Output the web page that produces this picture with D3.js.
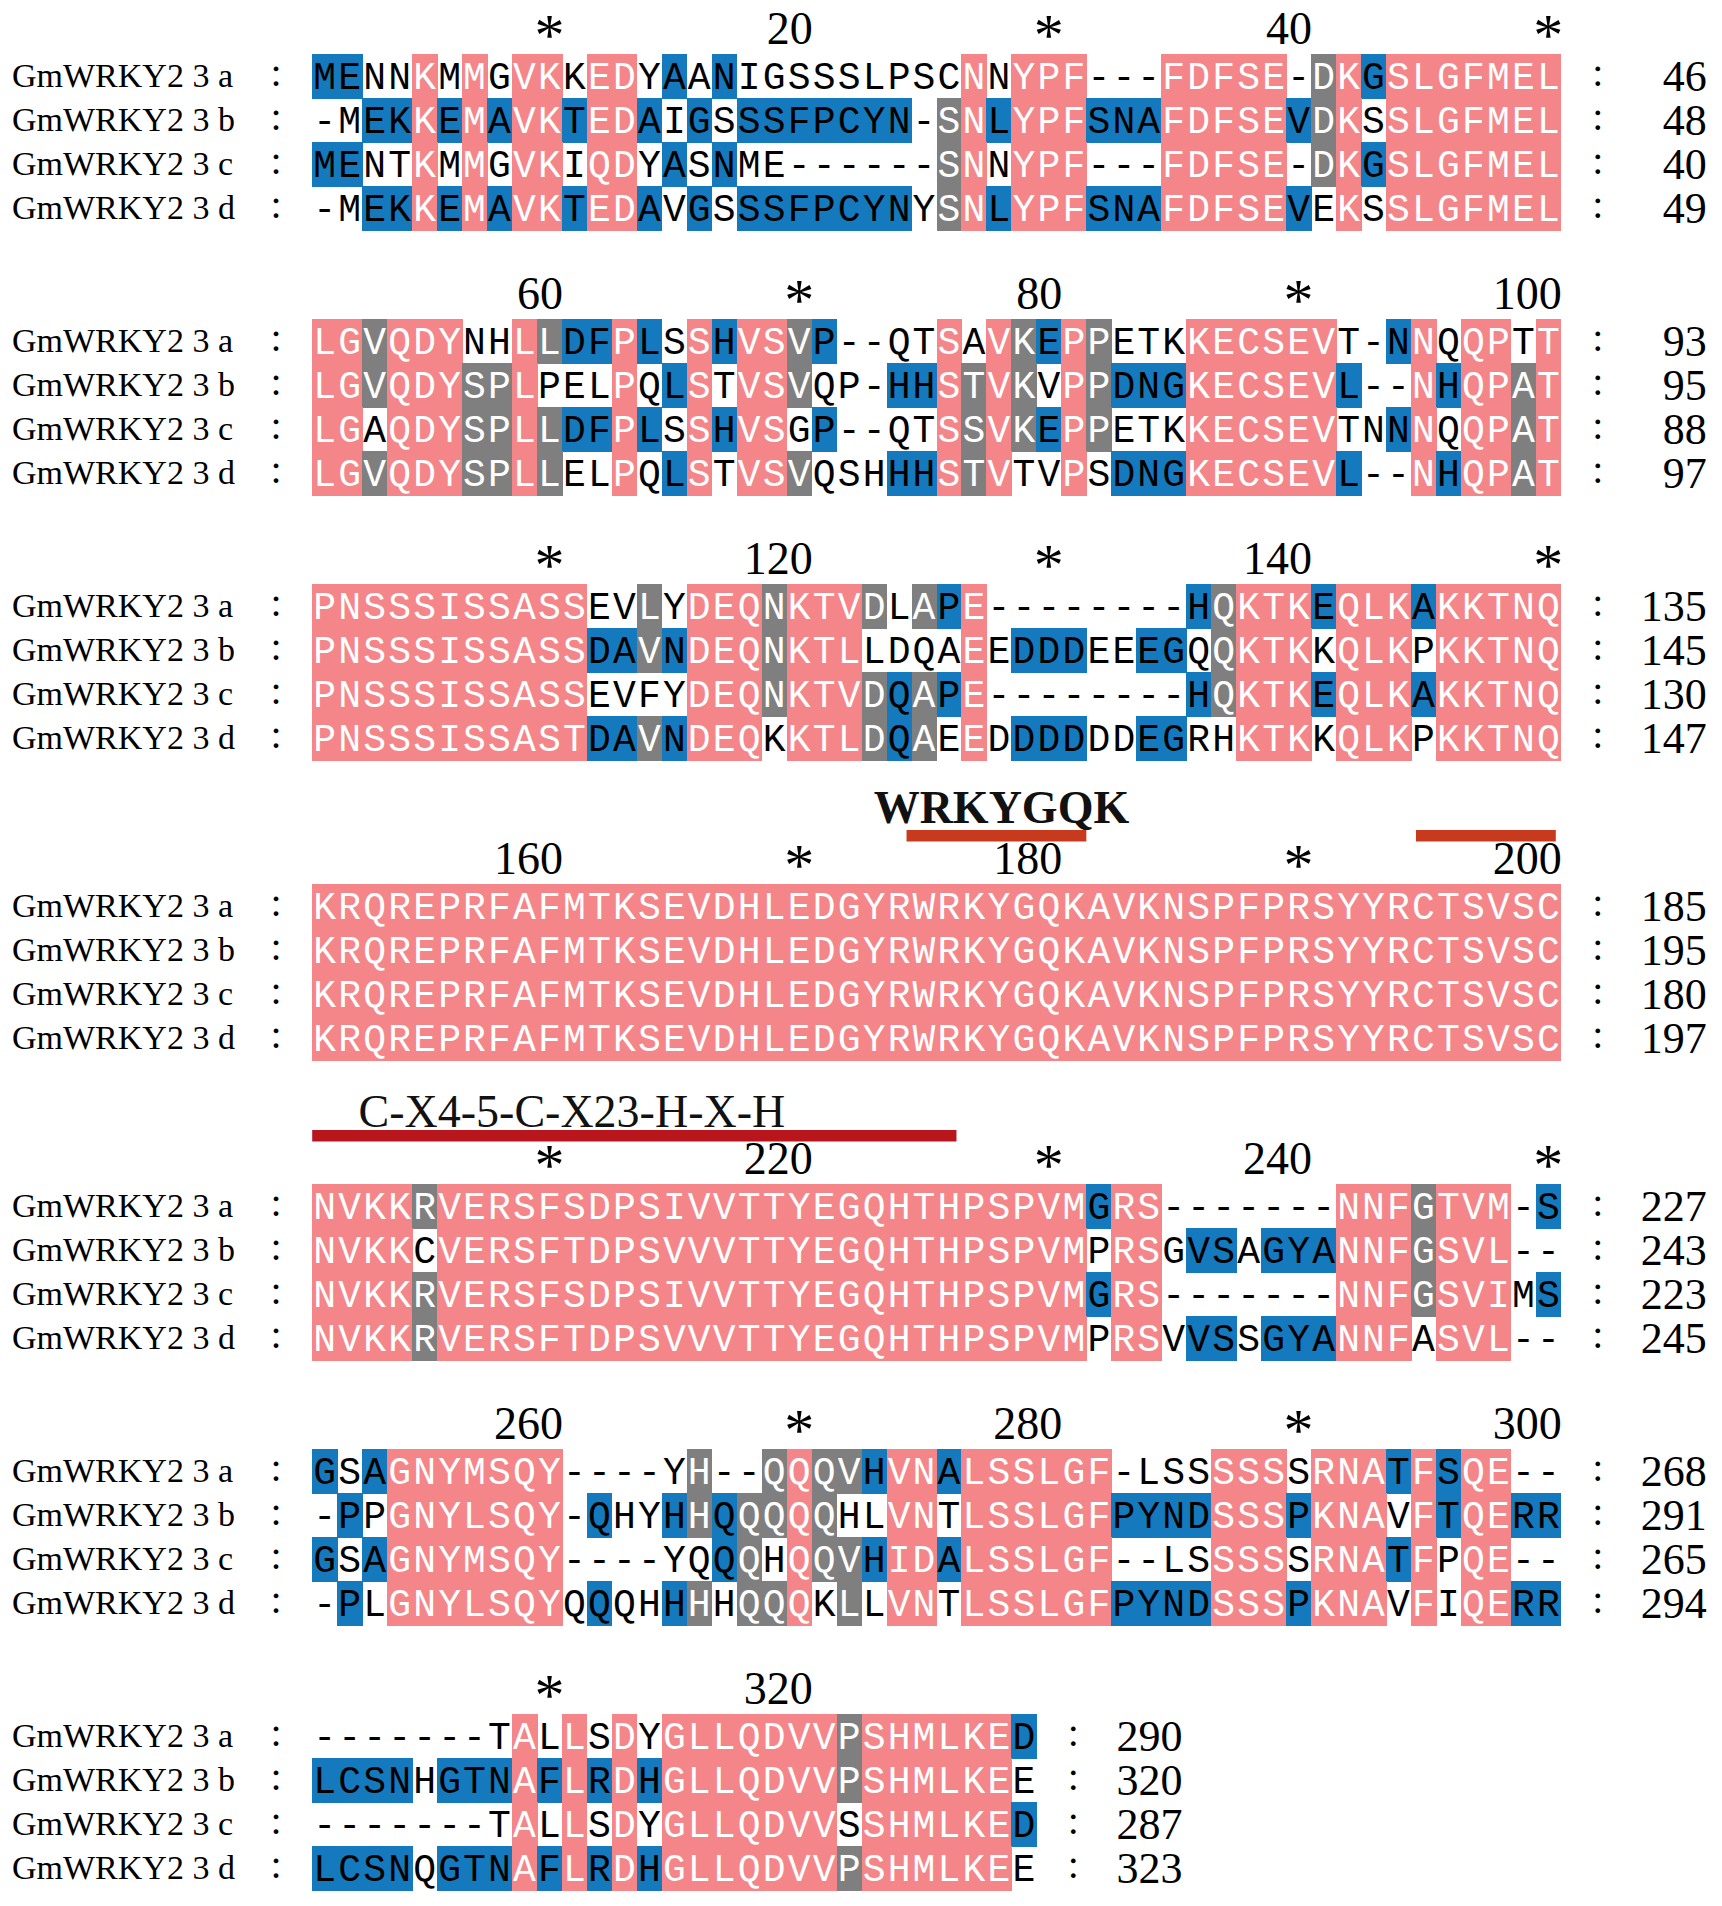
<!DOCTYPE html>
<html>
<head>
<meta charset="utf-8">
<title>GmWRKY23 alignment</title>
<script src="https://cdn.jsdelivr.net/npm/d3@7"></script>
<style>
body { margin: 0; background: #ffffff; }
</style>
</head>
<body>
<script>
// sequence names (rows)
var seqNames = ["GmWRKY2 3 a", "GmWRKY2 3 b", "GmWRKY2 3 c", "GmWRKY2 3 d"];

// aligned residues, one string per block of 50 columns
var seqA = [
  "MENNKMMGVKKEDYAANIGSSSLPSCNNYPF---FDFSE-DKGSLGFMEL",
  "LGVQDYNHLLDFPLSSHVSVP--QTSAVKEPPETKKECSEVT-NNQQPTT",
  "PNSSSISSASSEVLYDEQNKTVDLAPE--------HQKTKEQLKAKKTNQ",
  "KRQREPRFAFMTKSEVDHLEDGYRWRKYGQKAVKNSPFPRSYYRCTSVSC",
  "NVKKRVERSFSDPSIVVTTYEGQHTHPSPVMGRS-------NNFGTVM-S",
  "GSAGNYMSQY----YH--QQQVHVNALSSLGF-LSSSSSSRNATFSQE--",
  "-------TALLSDYGLLQDVVPSHMLKED"
];
var seqB = [
  "-MEKKEMAVKTEDAIGSSSFPCYN-SNLYPFSNAFDFSEVDKSSLGFMEL",
  "LGVQDYSPLPELPQLSTVSVQP-HHSTVKVPPDNGKECSEVL--NHQPAT",
  "PNSSSISSASSDAVNDEQNKTLLDQAEEDDDEEEGQQKTKKQLKPKKTNQ",
  "KRQREPRFAFMTKSEVDHLEDGYRWRKYGQKAVKNSPFPRSYYRCTSVSC",
  "NVKKCVERSFTDPSVVVTTYEGQHTHPSPVMPRSGVSAGYANNFGSVL--",
  "-PPGNYLSQY-QHYHHQQQQQHLVNTLSSLGFPYNDSSSPKNAVFTQERR",
  "LCSNHGTNAFLRDHGLLQDVVPSHMLKEE"
];
var seqC = [
  "MENTKMMGVKIQDYASNME------SNNYPF---FDFSE-DKGSLGFMEL",
  "LGAQDYSPLLDFPLSSHVSGP--QTSSVKEPPETKKECSEVTNNNQQPAT",
  "PNSSSISSASSEVFYDEQNKTVDQAPE--------HQKTKEQLKAKKTNQ",
  "KRQREPRFAFMTKSEVDHLEDGYRWRKYGQKAVKNSPFPRSYYRCTSVSC",
  "NVKKRVERSFSDPSIVVTTYEGQHTHPSPVMGRS-------NNFGSVIMS",
  "GSAGNYMSQY----YQQQHQQVHIDALSSLGF--LSSSSSRNATFPQE--",
  "-------TALLSDYGLLQDVVSSHMLKED"
];
var seqD = [
  "-MEKKEMAVKTEDAVGSSSFPCYNYSNLYPFSNAFDFSEVEKSSLGFMEL",
  "LGVQDYSPLLELPQLSTVSVQSHHHSTVTVPSDNGKECSEVL--NHQPAT",
  "PNSSSISSASTDAVNDEQKKTLDQAEEDDDDDDEGRHKTKKQLKPKKTNQ",
  "KRQREPRFAFMTKSEVDHLEDGYRWRKYGQKAVKNSPFPRSYYRCTSVSC",
  "NVKKRVERSFTDPSVVVTTYEGQHTHPSPVMPRSVVSSGYANNFASVL--",
  "-PLGNYLSQYQQQHHHHQQQKLLVNTLSSLGFPYNDSSSPKNAVFIQERR",
  "LCSNQGTNAFLRDHGLLQDVVPSHMLKEE"
];

// conservation class per column: p = identical, b = high, g = partial, . = none
var shadeA = [
  "bb..p.p.pp" + ".pp.b.b..." + "......p.pp" + "p...ppppp." + "gpbppppppp",
  "ppgppp..pg" + "bbpb.pbppg" + "b....p.pgb" + "pg...ppppp" + "p..bp.pp.p",
  "pppppppppp" + "p..g.pppgp" + "ppg.gbp..." + ".....bgppp" + "bpppbppppp",
  "pppppppppp" + "pppppppppp" + "pppppppppp" + "pppppppppp" + "pppppppppp",
  "ppppgppppp" + "pppppppppp" + "pppppppppp" + "pbpp......" + ".pppgppp.b",
  "b.bppppppp" + ".....g..gp" + "ggbppbpppp" + "pp....ppp." + "pppbpbpp..",
  "........p." + "p.p.pppppp" + "pgppppppb"
];
var shadeB = [
  "..bbpbpbpp" + "bppb.b.bbb" + "bbbb.gpbpp" + "pbbbpppppb" + "gp.ppppppp",
  "ppgpppggp." + "..p.bp.ppg" + "...bbpgpg." + "pgbbbppppp" + "pb..pbppgp",
  "pppppppppp" + "pbbgbpppgp" + "pp....p.bb" + "b..bb.gppp" + ".ppp.ppppp",
  "pppppppppp" + "pppppppppp" + "pppppppppp" + "pppppppppp" + "pppppppppp",
  "pppp.ppppp" + "pppppppppp" + "pppppppppp" + "p.pp.bb.bb" + "bpppgppp..",
  ".b.ppppppp" + ".b..bgbggp" + "g..pp.pppp" + "ppbbbbpppb" + "ppp.pbppbb",
  "bbbb.bbbpb" + "pbpbpppppp" + "pgpppppp."
];
var shadeC = [
  "bb..p.p.pp" + ".pp.b.b..." + ".....gp.pp" + "p...ppppp." + "gpbppppppp",
  "pp.pppggpg" + "bbpb.pbpp." + "b....pgpgb" + "pg...ppppp" + "p..bp.ppgp",
  "pppppppppp" + "p....pppgp" + "ppgbgbp..." + ".....bgppp" + "bpppbppppp",
  "pppppppppp" + "pppppppppp" + "pppppppppp" + "pppppppppp" + "pppppppppp",
  "ppppgppppp" + "pppppppppp" + "pppppppppp" + "pbpp......" + ".pppgppp.b",
  "b.bppppppp" + "......bg.p" + "ggbppbpppp" + "pp....ppp." + "pppbp.pp..",
  "........p." + "p.p.pppppp" + "p.ppppppb"
];
var shadeD = [
  "..bbpbpbpp" + "bppb.b.bbb" + "bbbb.gpbpp" + "pbbbpppppb" + ".p.ppppppp",
  "ppgpppggpg" + "..p.bp.ppg" + "...bbpgp.." + "p.bbbppppp" + "pb..pbppgp",
  "pppppppppp" + "pbbgbppp.p" + "ppgbg.p.bb" + "b..bb..ppp" + ".ppp.ppppp",
  "pppppppppp" + "pppppppppp" + "pppppppppp" + "pppppppppp" + "pppppppppp",
  "ppppgppppp" + "pppppppppp" + "pppppppppp" + "p.pp.bb.bb" + "bppp.ppp..",
  ".b.ppppppp" + ".b..bg.ggp" + ".g.pp.pppp" + "ppbbbbpppb" + "ppp.p.ppbb",
  "bbbb.bbbpb" + "pbpbpppppp" + "pgpppppp."
];

// ruler labels, one every 10 alignment columns (10, 20, ... 320)
var tickLabels = ["*","20","*","40","*","60","*","80","*","100","*","120","*","140","*","160",
                  "*","180","*","200","*","220","*","240","*","260","*","280","*","300","*","320"];

// domain annotations, in alignment columns (0 = left edge of column 1)
var motifNames = ["WRKYGQK", "", "C-X4-5-C-X23-H-X-H"];
var motifFrom = [173.8, 194.2, 200.0];
var motifTo = [181.0, 199.8, 225.8];
var motifLabelAt = [177.6, null, 210.4];

var motifColors = ["#c83a1e", "#c83a1e", "#b8151d"];
var fill = {p: "#f4868a", b: "#1479bd", g: "#7f7f7f"};
var ink = {p: "#ffffff", b: "#000000", g: "#ffffff", ".": "#000000"};

var W = 1722, H = 1906;
var blockLen = 50, rowH = 44, blockGap = 89, annoSpace = 35;

var svg = d3.select("body").append("svg")
  .attr("width", W).attr("height", H)
  .attr("xmlns", "http://www.w3.org/2000/svg");
svg.append("rect").attr("width", W).attr("height", H).attr("fill", "#ffffff");

var x = d3.scaleLinear().domain([0, blockLen]).range([312.2, 1560.8]);
var y = d3.scaleBand().domain(seqNames).range([0, 4 * rowH]);

var seqs = [seqA, seqB, seqC, seqD];
var shades = [shadeA, shadeB, shadeC, shadeD];
var counts = [0, 0, 0, 0];
var blockTop = 54;

for (var bi = 0; bi < seqA.length; bi++) {
  var off = bi * blockLen;
  var annos = d3.range(motifNames.length).filter(function(i) {
    return Math.floor(motifFrom[i] / blockLen) == bi;
  });
  if (bi > 0) blockTop += 4 * rowH + blockGap + (annos.length ? annoSpace : 0);

  var g = svg.append("g").attr("transform", "translate(0," + blockTop + ")");
  var len = seqA[bi].length;

  // cells
  var cells = [];
  seqs.forEach(function(s, r) {
    for (var c = 0; c < s[bi].length; c++) {
      cells.push({row: seqNames[r], col: c, ch: s[bi][c], sh: shades[r][bi][c]});
    }
  });

  g.selectAll("rect.cell").data(cells.filter(function(d) { return d.sh != "."; }))
    .enter().append("rect").attr("class", "cell")
    .attr("x", function(d) { return x(d.col); })
    .attr("y", function(d) { return y(d.row); })
    .attr("width", function(d) { return x(d.col + 1) - x(d.col) + 0.6; })
    .attr("height", y.bandwidth() + 0.6)
    .attr("fill", function(d) { return fill[d.sh]; })
    .attr("shape-rendering", "crispEdges");

  g.selectAll("text.res").data(cells)
    .enter().append("text").attr("class", "res")
    .attr("x", function(d) { return x(d.col + 0.5); })
    .attr("y", function(d) { return y(d.row) + y.bandwidth() / 2 + 12.5; })
    .attr("text-anchor", "middle")
    .attr("font-family", "'Liberation Mono', 'Courier New', monospace")
    .attr("font-size", 38)
    .attr("fill", function(d) { return ink[d.sh]; })
    .text(function(d) { return d.ch; });

  // names and colons
  g.selectAll("text.name").data(seqNames)
    .enter().append("text").attr("class", "name")
    .attr("x", 12)
    .attr("y", function(d) { return y(d) + y.bandwidth() / 2 + 11; })
    .attr("font-family", "'Liberation Serif', serif")
    .attr("font-size", 34)
    .text(function(d) { return d; });

  var colonR = x(len) + 37;
  [276, colonR].forEach(function(cx) {
    g.selectAll(null).data(seqNames).enter().append("text")
      .attr("x", cx)
      .attr("y", function(d) { return y(d) + y.bandwidth() / 2 + 10; })
      .attr("text-anchor", "middle")
      .attr("font-family", "'Liberation Serif', serif")
      .attr("font-size", 40)
      .text(":");
  });

  // running residue counts
  seqs.forEach(function(s, r) {
    counts[r] += s[bi].replace(/-/g, "").length;
  });
  g.selectAll("text.count").data(seqNames)
    .enter().append("text").attr("class", "count")
    .attr("x", colonR + 109)
    .attr("y", function(d) { return y(d) + y.bandwidth() / 2 + 15; })
    .attr("text-anchor", "end")
    .attr("font-family", "'Liberation Serif', serif")
    .attr("font-size", 44)
    .text(function(d, i) { return counts[i]; });

  // ruler: asterisks centred on the column, numbers ending at its right edge
  var ticks = tickLabels.map(function(t, i) { return {pos: (i + 1) * 10, label: t}; })
    .filter(function(t) { return t.pos > off && t.pos <= off + len; });
  g.selectAll("text.tick").data(ticks)
    .enter().append("text").attr("class", "tick")
    .attr("x", function(d) { return d.label == "*" ? x(d.pos - off - 0.5) : x(d.pos - off) + 1; })
    .attr("y", function(d) { return d.label == "*" ? 1 : -10.5; })
    .attr("text-anchor", function(d) { return d.label == "*" ? "middle" : "end"; })
    .attr("font-family", "'Liberation Serif', serif")
    .attr("font-size", function(d) { return d.label == "*" ? 60 : 46; })
    .text(function(d) { return d.label; });

  // domain bars and labels
  g.selectAll("rect.motif").data(annos)
    .enter().append("rect").attr("class", "motif")
    .attr("x", function(i) { return x(motifFrom[i] - off); })
    .attr("width", function(i) { return x(motifTo[i] - off) - x(motifFrom[i] - off); })
    .attr("y", -54)
    .attr("height", 11.5)
    .attr("fill", function(i) { return motifColors[i]; });

  g.selectAll("text.motif").data(annos.filter(function(i) { return motifNames[i] != ""; }))
    .enter().append("text").attr("class", "motif")
    .attr("x", function(i) { return x(motifLabelAt[i] - off); })
    .attr("y", function(i) { return i == 0 ? -61 : -57.5; })
    .attr("text-anchor", "middle")
    .attr("font-family", "'Liberation Serif', serif")
    .attr("font-weight", function(i) { return i == 0 ? "bold" : "normal"; })
    .attr("font-size", 46)
    .attr("fill", "#111111")
    .text(function(i) { return motifNames[i]; });
}
</script>
</body>
</html>
